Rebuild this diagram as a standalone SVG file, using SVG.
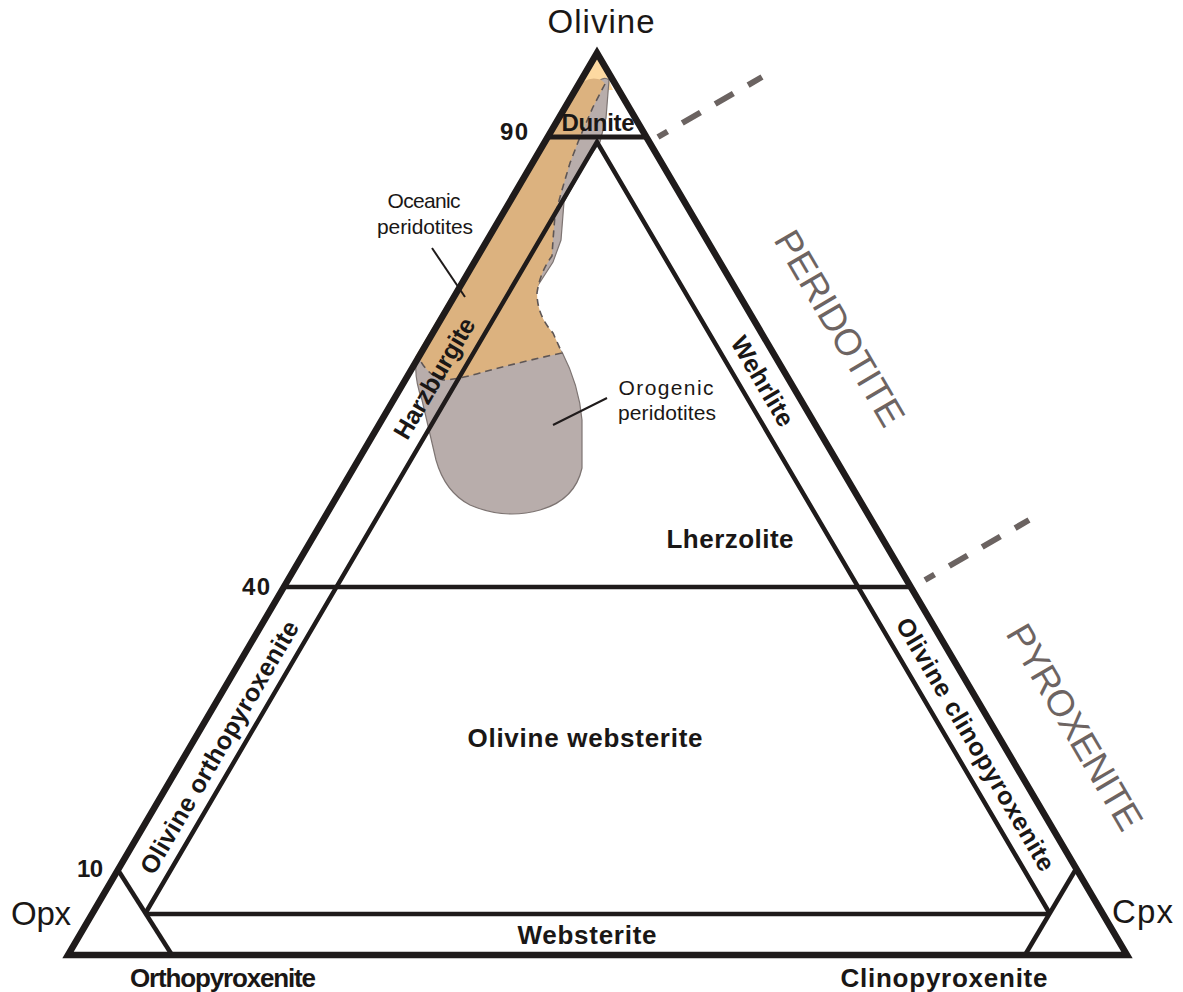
<svg xmlns="http://www.w3.org/2000/svg" width="1183" height="992" viewBox="0 0 1183 992">
<style>
.t{font-family:"Liberation Sans",Arial,sans-serif;fill:#1a1716}
.b{font-weight:bold;font-size:26px}
.r{font-size:33px}
.s{font-size:21px}
.big{font-size:37px;fill:#6d6462}
.m{text-anchor:middle}
.outer{fill:none;stroke:#1f1b1b;stroke-width:6.5;stroke-linejoin:miter;stroke-miterlimit:10}
.ln{fill:none;stroke:#1f1b1b;stroke-width:4.5;stroke-linecap:butt}
.dash{fill:none;stroke:#6b6361;stroke-width:6;stroke-dasharray:21 17;stroke-dashoffset:10}
.lead{stroke:#1f1b1b;stroke-width:2}
</style>
<rect width="1183" height="992" fill="#ffffff"/>
<g id="fields">
  <polygon id="apex-fill" points="597,53 576,90 613,90" fill="#fdd9a1"/>
  <path id="orogenic" d="M598,82 Q604,76 609,80 L606,118 L600,142 L586,162 L564,202 L561,240 L553,262 L535,290 L540,330 L562,352 Q579,385 582,420 L582,468 Q575,500 540,510 Q505,520 470,505 Q445,492 436,460 L422,400 Q413,375 417,357 L440,335 L570,115 Z" fill="#b8adab" stroke="#7d7472" stroke-width="1.2"/>
  <path id="oceanic" d="M574,90 Q586,76 598,79 Q603,80 605,84 L593,107 L580,137 L570,163 L562,190 L555,215 L553,240 L552,256 Q540,272 537,293 Q537,315 553,333 L562,353 Q520,362 480,373 Q455,380 443,380 Q428,375 420,360 L415,357 Z" fill="#dcb27f"/>
  <path id="oceanic-edge" d="M605,84 L593,107 L580,137 L570,163 L562,190 L555,215 L553,240 L552,256 Q540,272 537,293 Q537,315 553,333 L562,353 Q520,362 480,373 Q455,380 443,380 Q428,375 420,360" fill="none" stroke="#5e5655" stroke-width="1.6" stroke-dasharray="7 5"/>
</g>
<g id="connectors">
  <polygon class="outer" points="597,53 68,955 1127,955"/>
  <polyline class="ln" points="145,914 597,142 1050,914"/>
  <line class="ln" x1="547" y1="137" x2="648" y2="137" style="stroke-width:5"/>
  <line class="ln" x1="283" y1="587" x2="912" y2="587"/>
  <line class="ln" x1="145" y1="914" x2="1050" y2="914"/>
  <line class="ln" x1="118" y1="870" x2="172" y2="955"/>
  <line class="ln" x1="1076" y1="869" x2="1025" y2="955"/>
  <line class="dash" x1="658" y1="137" x2="762" y2="77"/>
  <line class="dash" x1="925" y1="580" x2="1029" y2="520"/>
  <line class="lead" x1="432" y1="248" x2="465" y2="297"/>
  <line class="lead" x1="607" y1="398" x2="553" y2="425"/>
</g>
<g id="vertex-labels">
  <text class="t r m" x="601" y="33" textLength="107">Olivine</text>
  <text class="t r" x="11" y="925" textLength="60">Opx</text>
  <text class="t r" x="1112" y="923" textLength="61">Cpx</text>
</g>
<g id="ticks">
  <text class="t b" x="500" y="140" textLength="28" style="font-size:24px">90</text>
  <text class="t b" x="242" y="595" textLength="28" style="font-size:24px">40</text>
  <text class="t b" x="77" y="877" textLength="26" style="font-size:24px">10</text>
</g>
<g id="dunite"><text class="t b m" x="598" y="131" textLength="73" style="font-size:24px">Dunite</text></g>
<g id="harzburgite"><text class="t b m" transform="translate(434,378) rotate(-59.6)" x="0" y="9" textLength="136" style="font-size:25px">Harzburgite</text></g>
<g id="wehrlite"><text class="t b m" transform="translate(763,381) rotate(59.6)" x="0" y="9" textLength="100" style="font-size:25px">Wehrlite</text></g>
<g id="lherzolite"><text class="t b m" x="730" y="548" textLength="127">Lherzolite</text></g>
<g id="ol-opx"><text class="t b m" transform="translate(219,747) rotate(-59.6)" x="0" y="9" textLength="289" style="font-size:25px">Olivine orthopyroxenite</text></g>
<g id="ol-cpx"><text class="t b m" transform="translate(976,744) rotate(59.6)" x="0" y="9" textLength="289" style="font-size:25px">Olivine clinopyroxenite</text></g>
<g id="ol-web"><text class="t b m" x="585" y="747" textLength="235">Olivine websterite</text></g>
<g id="websterite"><text class="t b m" x="587" y="944" textLength="139">Websterite</text></g>
<g id="opx-ite"><text class="t b m" x="223" y="987" textLength="186">Orthopyroxenite</text></g>
<g id="cpx-ite"><text class="t b m" x="944" y="987" textLength="207">Clinopyroxenite</text></g>
<g id="oceanic-label">
  <text class="t s m" x="424" y="208" textLength="73">Oceanic</text>
  <text class="t s m" x="425" y="234" textLength="96">peridotites</text>
</g>
<g id="orogenic-label">
  <text class="t s m" x="666" y="395" textLength="95">Orogenic</text>
  <text class="t s m" x="667" y="420" textLength="98">peridotites</text>
</g>
<g id="peridotite"><text class="t big m" transform="translate(840,328) rotate(59.6)" x="0" y="13" textLength="220">PERIDOTITE</text></g>
<g id="pyroxenite"><text class="t big m" transform="translate(1075,727) rotate(59.6)" x="0" y="13" textLength="232">PYROXENITE</text></g>
</svg>
